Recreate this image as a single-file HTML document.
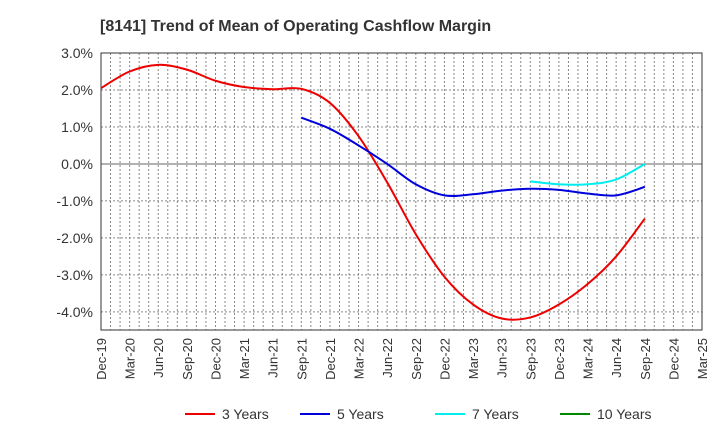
<!DOCTYPE html>
<html><head><meta charset="utf-8"><style>
body{margin:0;background:#fff;font-family:"Liberation Sans",sans-serif}
</style></head><body>
<svg id="c" width="720" height="440" xmlns="http://www.w3.org/2000/svg" font-family="Liberation Sans, sans-serif">
<text x="100" y="31" font-size="16" font-weight="bold" fill="#333">[8141]  Trend of Mean of Operating Cashflow Margin</text>
<g id="grid"></g><g id="axes"></g><g id="series"></g><g id="legend"></g>
</svg>
<script>
const xLabels=["Dec-19","Mar-20","Jun-20","Sep-20","Dec-20","Mar-21","Jun-21","Sep-21","Dec-21","Mar-22","Jun-22","Sep-22","Dec-22","Mar-23","Jun-23","Sep-23","Dec-23","Mar-24","Jun-24","Sep-24","Dec-24","Mar-25"];
const yTicks=[3,2,1,0,-1,-2,-3,-4];
const s3=[2.05,2.5,2.68,2.55,2.25,2.08,2.02,2.03,1.65,0.75,-0.5,-1.9,-3.05,-3.8,-4.18,-4.15,-3.8,-3.25,-2.5,-1.48];
const s5=[1.25,0.95,0.5,0.0,-0.55,-0.85,-0.82,-0.72,-0.67,-0.7,-0.8,-0.85,-0.62];
const s7=[-0.47,-0.55,-0.55,-0.42,0.0];
const s5Start=7, s7Start=15;
const L=101,R=702,T=53,B=330,yMax=3,yMin=-4.49;
const NS="http://www.w3.org/2000/svg";
const xq=i=>L+(R-L)*(i*3)/63, xm=m=>L+(R-L)*m/63;
const y=v=>T+(yMax-v)/(yMax-yMin)*(B-T);
function mk(tag,attrs,parent,text){const e=document.createElementNS(NS,tag);for(const k in attrs)e.setAttribute(k,attrs[k]);if(text!==undefined)e.textContent=text;parent.appendChild(e);return e;}
const g=document.getElementById('grid'),ax=document.getElementById('axes'),se=document.getElementById('series'),lg=document.getElementById('legend');
for(let m=1;m<63;m++){const l=mk('line',{x1:xm(m),x2:xm(m),y1:T,y2:B,stroke:'#888','stroke-dasharray':'2,2','stroke-width':1},g);

}
yTicks.forEach(v=>{const l=mk('line',{x1:L,x2:R,y1:y(v),y2:y(v),stroke:v===0?'#666':'#888','stroke-dasharray':v===0?'none':'2,2','stroke-width':1},g);


const t=mk('text',{x:L-8,y:y(v)+5,'text-anchor':'end','font-size':14,fill:'#333'},ax,v.toFixed(1)+'%');

});
const fr=mk('rect',{x:L,y:T,width:R-L,height:B-T,fill:'none',stroke:'#333'},ax);


xLabels.forEach((s,i)=>{const x=xq(i);const t=mk('text',{transform:`translate(${x+5},${B+8}) rotate(-90)`,'text-anchor':'end','font-size':13,fill:'#333'},ax,s);

});
function path(vals,start){const p=vals.map((v,i)=>[xq(start+i),y(v)]);let d=`M${p[0][0]},${p[0][1]}`;
for(let i=0;i<p.length-1;i++){const p0=p[i-1]||p[i],p1=p[i],p2=p[i+1],p3=p[i+2]||p2;
d+=` C${p1[0]+(p2[0]-p0[0])/6},${p1[1]+(p2[1]-p0[1])/6} ${p2[0]-(p3[0]-p1[0])/6},${p2[1]-(p3[1]-p1[1])/6} ${p2[0]},${p2[1]}`;}return d;}
[[s3,0,'#e00','series-3-years'],[s5,s5Start,'#00d','series-5-years'],[s7,s7Start,'#0ee','series-7-years']].forEach(([v,s,c,n])=>{
const e=mk('path',{d:path(v,s),fill:'none',stroke:c,'stroke-width':2},se);

});
[['3 Years','#e00',185],['5 Years','#00d',300],['7 Years','#0ee',435],['10 Years','#080',560]].forEach(([n,c,x])=>{
const l=mk('line',{x1:x,x2:x+30,y1:414,y2:414,stroke:c,'stroke-width':2},lg);


const t=mk('text',{x:x+37,y:419,'font-size':14,fill:'#333'},lg,n);

});
</script>
</body></html>
